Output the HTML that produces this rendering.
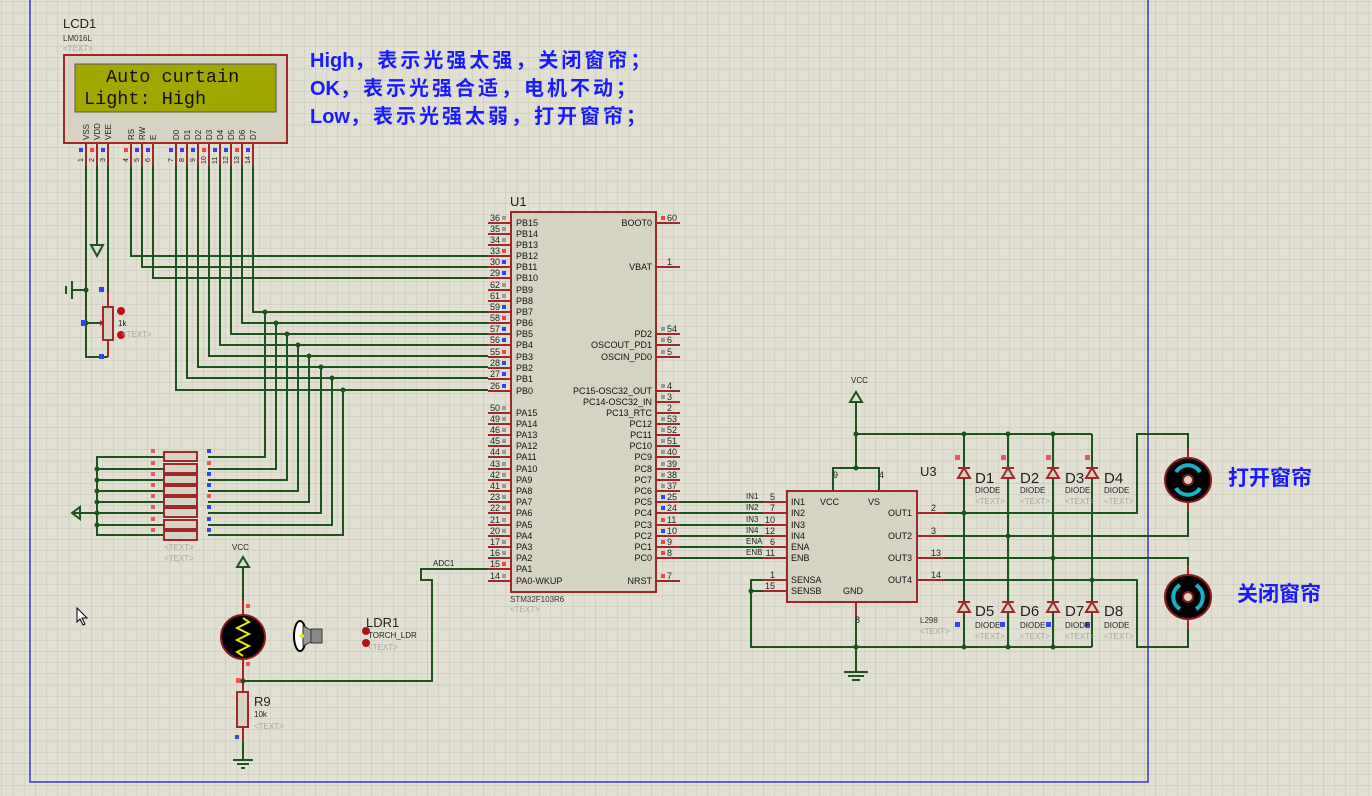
<!DOCTYPE html>
<html><head><meta charset="utf-8"><style>
html,body{margin:0;padding:0;background:#e1e0d3;}
svg{display:block;}
text{font-family:"Liberation Sans",Arial,sans-serif;}
.pn{font-size:9px;fill:#222;}
.pl{font-size:9px;fill:#111;}
.w{stroke:#1d531d;stroke-width:2;fill:none;}
.r{stroke:#a02828;stroke-width:2;fill:none;}
.tx{font-size:8px;fill:#a8a8a0;}
.cn{font-family:"Liberation Sans","Noto Sans CJK SC",sans-serif;font-weight:bold;fill:#1a1aff;}
.mono{font-family:"Liberation Mono","DejaVu Sans Mono",monospace;}
.sp{letter-spacing:3px;}
</style></head><body>
<svg width="1372" height="796" viewBox="0 0 1372 796" xmlns="http://www.w3.org/2000/svg">
<defs>
<pattern id="g" width="11.2" height="11.2" patternUnits="userSpaceOnUse" x="2" y="2">
<path d="M11.2 0V11.2M0 11.2H11.2" stroke="#c4c4b4" stroke-width="1" fill="none"/>
</pattern>
</defs>
<rect width="1372" height="796" fill="#e1e0d3"/>
<rect width="1372" height="796" fill="url(#g)"/>
<path d="M30 0V782H1148V0" stroke="#3a3ab8" stroke-width="1.5" fill="none"/>

<text x="310" y="67" class="cn" font-size="20">High<tspan class="sp">，表示光强太强，关闭窗帘；</tspan></text>
<text x="310" y="95" class="cn" font-size="20">OK<tspan class="sp">，表示光强合适，电机不动；</tspan></text>
<text x="310" y="123" class="cn" font-size="20">Low<tspan class="sp">，表示光强太弱，打开窗帘；</tspan></text>

<text x="63" y="28" font-size="13" fill="#222">LCD1</text>
<text x="63" y="41" font-size="8" fill="#333">LM016L</text>
<text x="63" y="51" class="tx">&lt;TEXT&gt;</text>
<rect x="64" y="55" width="223" height="88" fill="#d6d3c2" stroke="#a02828" stroke-width="2"/>
<rect x="75" y="64" width="201" height="48" fill="#a0a800" stroke="#555" stroke-width="1"/>
<text x="106" y="82" class="mono" font-size="18.5" fill="#111">Auto curtain</text>
<text x="84" y="104" class="mono" font-size="18.5" fill="#111">Light: High</text>
<g font-size="8" fill="#222">
<text transform="translate(89,140) rotate(-90)">VSS</text>
<text transform="translate(100,140) rotate(-90)">VDD</text>
<text transform="translate(111,140) rotate(-90)">VEE</text>
<text transform="translate(134,140) rotate(-90)">RS</text>
<text transform="translate(145,140) rotate(-90)">RW</text>
<text transform="translate(156,140) rotate(-90)">E</text>
<text transform="translate(179,140) rotate(-90)">D0</text>
<text transform="translate(190,140) rotate(-90)">D1</text>
<text transform="translate(201,140) rotate(-90)">D2</text>
<text transform="translate(212,140) rotate(-90)">D3</text>
<text transform="translate(223,140) rotate(-90)">D4</text>
<text transform="translate(234,140) rotate(-90)">D5</text>
<text transform="translate(245,140) rotate(-90)">D6</text>
<text transform="translate(256,140) rotate(-90)">D7</text>
</g>
<g class="r">
<path d="M86 144V166M97 144V166M108 144V166M131 144V166M142 144V166M153 144V166M176 144V166M187 144V166M198 144V166M209 144V166M220 144V166M231 144V166M242 144V166M253 144V166"/>
</g>
<g font-size="7" fill="#222">
<text transform="translate(83,162) rotate(-90)">1</text><text transform="translate(94,162) rotate(-90)">2</text><text transform="translate(105,162) rotate(-90)">3</text>
<text transform="translate(128,162) rotate(-90)">4</text><text transform="translate(139,162) rotate(-90)">5</text><text transform="translate(150,162) rotate(-90)">6</text>
<text transform="translate(173,162) rotate(-90)">7</text><text transform="translate(184,162) rotate(-90)">8</text><text transform="translate(195,162) rotate(-90)">9</text>
<text transform="translate(206,164) rotate(-90)">10</text><text transform="translate(217,164) rotate(-90)">11</text><text transform="translate(228,164) rotate(-90)">12</text>
<text transform="translate(239,164) rotate(-90)">13</text><text transform="translate(250,164) rotate(-90)">14</text>
</g>
<g>
<rect x="79" y="148" width="4" height="4" fill="#3344ee"/><rect x="90" y="148" width="4" height="4" fill="#ee4444"/><rect x="101" y="148" width="4" height="4" fill="#3344ee"/>
<rect x="124" y="148" width="4" height="4" fill="#ee4444"/><rect x="135" y="148" width="4" height="4" fill="#3344ee"/><rect x="146" y="148" width="4" height="4" fill="#3344ee"/>
<rect x="169" y="148" width="4" height="4" fill="#3344ee"/><rect x="180" y="148" width="4" height="4" fill="#3344ee"/><rect x="191" y="148" width="4" height="4" fill="#3344ee"/>
<rect x="202" y="148" width="4" height="4" fill="#ee4444"/><rect x="213" y="148" width="4" height="4" fill="#3344ee"/><rect x="224" y="148" width="4" height="4" fill="#3344ee"/>
<rect x="235" y="148" width="4" height="4" fill="#ee4444"/><rect x="246" y="148" width="4" height="4" fill="#3344ee"/>
</g>

<g class="w">
<path d="M86 166V357H108"/>
<path d="M97 166V245"/>
<path d="M108 166V292"/>
<path d="M131 166V256H488"/>
<path d="M142 166V267H488"/>
<path d="M153 166V278H488"/>
<path d="M253 166V312H488"/>
<path d="M242 166V323H488"/>
<path d="M231 166V334H488"/>
<path d="M220 166V345H488"/>
<path d="M209 166V356H488"/>
<path d="M198 166V367H488"/>
<path d="M187 166V378H488"/>
<path d="M176 166V390H488"/>
<path d="M265 312V457H208"/>
<path d="M276 323V469H208"/>
<path d="M287 334V480H208"/>
<path d="M298 345V491H208"/>
<path d="M309 356V502H208"/>
<path d="M321 367V513H208"/>
<path d="M332 378V525H208"/>
<path d="M343 390V535H208"/>
<path d="M164 457H97V535H164M97 469H164M97 480H164M97 491H164M97 502H164M97 513H164M97 525H164M97 513H72"/>
<path d="M86 290H72M72 281V299M66 286V294M86 323H100"/>
</g>
<path d="M91 245H103L97 256Z" fill="none" stroke="#1d531d" stroke-width="2"/>
<path d="M72 513L80 507V519Z" fill="none" stroke="#1d531d" stroke-width="2"/>
<path d="M100 320L104 323L100 326Z" fill="#a02828"/>
<g fill="#1d531d">
<circle cx="86" cy="290" r="2.5"/><circle cx="86" cy="323" r="2.5"/>
<circle cx="265" cy="312" r="2.5"/><circle cx="276" cy="323" r="2.5"/><circle cx="287" cy="334" r="2.5"/><circle cx="298" cy="345" r="2.5"/>
<circle cx="309" cy="356" r="2.5"/><circle cx="321" cy="367" r="2.5"/><circle cx="332" cy="378" r="2.5"/><circle cx="343" cy="390" r="2.5"/>
<circle cx="97" cy="469" r="2.5"/><circle cx="97" cy="480" r="2.5"/><circle cx="97" cy="491" r="2.5"/><circle cx="97" cy="502" r="2.5"/><circle cx="97" cy="513" r="2.5"/><circle cx="97" cy="525" r="2.5"/>
</g>
<path class="r" d="M108 292V307M108 340V357"/>
<rect x="103" y="307" width="10" height="33" fill="#d6d3c2" stroke="#a02828" stroke-width="2"/>
<rect x="99" y="287" width="5" height="5" fill="#3344ee"/><rect x="81" y="320" width="5" height="6" fill="#3344ee"/><rect x="99" y="354" width="5" height="5" fill="#3344ee"/>
<circle cx="121" cy="311" r="4" fill="#c01010"/><circle cx="121" cy="335" r="4" fill="#c01010"/>
<text x="118" y="326" font-size="8" fill="#222">1k</text>
<text x="122" y="337" class="tx">&lt;TEXT&gt;</text>

<g fill="#d6d3c2" stroke="#a02828" stroke-width="2">
<rect x="164" y="452" width="33" height="9"/><rect x="164" y="464" width="33" height="9"/><rect x="164" y="475" width="33" height="9"/><rect x="164" y="486" width="33" height="9"/>
<rect x="164" y="497" width="33" height="9"/><rect x="164" y="508" width="33" height="9"/><rect x="164" y="520" width="33" height="9"/><rect x="164" y="531" width="33" height="9"/>
</g>
<g fill="#ee5555">
<rect x="151" y="449" width="4" height="4"/><rect x="151" y="461" width="4" height="4"/><rect x="151" y="472" width="4" height="4"/><rect x="151" y="483" width="4" height="4"/><rect x="151" y="494" width="4" height="4"/><rect x="151" y="505" width="4" height="4"/><rect x="151" y="517" width="4" height="4"/><rect x="151" y="528" width="4" height="4"/>
<rect x="207" y="461" width="4" height="4"/><rect x="207" y="494" width="4" height="4"/>
</g>
<g fill="#3344ee">
<rect x="207" y="449" width="4" height="4"/><rect x="207" y="472" width="4" height="4"/><rect x="207" y="483" width="4" height="4"/><rect x="207" y="505" width="4" height="4"/><rect x="207" y="517" width="4" height="4"/><rect x="207" y="528" width="4" height="4"/>
</g>
<text x="164" y="550" class="tx">&lt;TEXT&gt;</text>
<text x="164" y="561" class="tx">&lt;TEXT&gt;</text>

<text x="510" y="206" font-size="13" fill="#222">U1</text>
<rect x="511" y="212" width="145" height="380" fill="#d6d3c2" stroke="#a02828" stroke-width="2"/>
<g class="r">
<path d="M488 223H511M488 234H511M488 245H511M488 256H511M488 267H511M488 278H511M488 290H511M488 301H511M488 312H511M488 323H511M488 334H511M488 345H511M488 357H511M488 368H511M488 379H511M488 391H511"/>
<path d="M488 413H511M488 424H511M488 435H511M488 446H511M488 457H511M488 469H511M488 480H511M488 491H511M488 502H511M488 513H511M488 525H511M488 536H511M488 547H511M488 558H511M488 569H511M488 581H511"/>
<path d="M656 223H680M656 267H680M656 334H680M656 345H680M656 357H680M656 391H680M656 402H680M656 413H680M656 424H680M656 435H680M656 446H680M656 457H680M656 469H680M656 480H680M656 491H680M656 502H680M656 513H680M656 525H680M656 536H680M656 547H680M656 558H680M656 581H680"/>
</g>
<g class="pn" text-anchor="end">
<text x="500" y="221">36</text><text x="500" y="232">35</text><text x="500" y="243">34</text><text x="500" y="254">33</text><text x="500" y="265">30</text><text x="500" y="276">29</text><text x="500" y="288">62</text><text x="500" y="299">61</text>
<text x="500" y="310">59</text><text x="500" y="321">58</text><text x="500" y="332">57</text><text x="500" y="343">56</text><text x="500" y="355">55</text><text x="500" y="366">28</text><text x="500" y="377">27</text><text x="500" y="389">26</text>
<text x="500" y="411">50</text><text x="500" y="422">49</text><text x="500" y="433">46</text><text x="500" y="444">45</text><text x="500" y="455">44</text><text x="500" y="467">43</text><text x="500" y="478">42</text><text x="500" y="489">41</text>
<text x="500" y="500">23</text><text x="500" y="511">22</text><text x="500" y="523">21</text><text x="500" y="534">20</text><text x="500" y="545">17</text><text x="500" y="556">16</text><text x="500" y="567">15</text><text x="500" y="579">14</text>
</g>
<g fill="#999">
<rect x="502" y="216" width="4" height="4"/><rect x="502" y="227" width="4" height="4"/><rect x="502" y="238" width="4" height="4"/><rect x="502" y="283" width="4" height="4"/><rect x="502" y="294" width="4" height="4"/>
<rect x="502" y="406" width="4" height="4"/><rect x="502" y="417" width="4" height="4"/><rect x="502" y="428" width="4" height="4"/><rect x="502" y="439" width="4" height="4"/><rect x="502" y="450" width="4" height="4"/><rect x="502" y="462" width="4" height="4"/><rect x="502" y="473" width="4" height="4"/><rect x="502" y="484" width="4" height="4"/><rect x="502" y="495" width="4" height="4"/><rect x="502" y="506" width="4" height="4"/><rect x="502" y="518" width="4" height="4"/><rect x="502" y="529" width="4" height="4"/><rect x="502" y="540" width="4" height="4"/><rect x="502" y="551" width="4" height="4"/><rect x="502" y="574" width="4" height="4"/>
<rect x="661" y="327" width="4" height="4"/><rect x="661" y="338" width="4" height="4"/><rect x="661" y="350" width="4" height="4"/><rect x="661" y="384" width="4" height="4"/><rect x="661" y="395" width="4" height="4"/><rect x="661" y="417" width="4" height="4"/><rect x="661" y="428" width="4" height="4"/><rect x="661" y="439" width="4" height="4"/><rect x="661" y="450" width="4" height="4"/><rect x="661" y="462" width="4" height="4"/><rect x="661" y="473" width="4" height="4"/><rect x="661" y="484" width="4" height="4"/>
</g>
<g fill="#ee4444"><rect x="502" y="249" width="4" height="4"/><rect x="502" y="316" width="4" height="4"/><rect x="502" y="350" width="4" height="4"/><rect x="502" y="562" width="4" height="4"/><rect x="661" y="216" width="4" height="4"/><rect x="661" y="518" width="4" height="4"/><rect x="661" y="540" width="4" height="4"/><rect x="661" y="551" width="4" height="4"/><rect x="661" y="574" width="4" height="4"/></g>
<g fill="#3344ee"><rect x="502" y="260" width="4" height="4"/><rect x="502" y="271" width="4" height="4"/><rect x="502" y="305" width="4" height="4"/><rect x="502" y="327" width="4" height="4"/><rect x="502" y="338" width="4" height="4"/><rect x="502" y="361" width="4" height="4"/><rect x="502" y="372" width="4" height="4"/><rect x="502" y="384" width="4" height="4"/><rect x="661" y="495" width="4" height="4"/><rect x="661" y="506" width="4" height="4"/><rect x="661" y="529" width="4" height="4"/></g>
<g class="pl">
<text x="516" y="226">PB15</text><text x="516" y="237">PB14</text><text x="516" y="248">PB13</text><text x="516" y="259">PB12</text><text x="516" y="270">PB11</text><text x="516" y="281">PB10</text><text x="516" y="293">PB9</text><text x="516" y="304">PB8</text>
<text x="516" y="315">PB7</text><text x="516" y="326">PB6</text><text x="516" y="337">PB5</text><text x="516" y="348">PB4</text><text x="516" y="360">PB3</text><text x="516" y="371">PB2</text><text x="516" y="382">PB1</text><text x="516" y="394">PB0</text>
<text x="516" y="416">PA15</text><text x="516" y="427">PA14</text><text x="516" y="438">PA13</text><text x="516" y="449">PA12</text><text x="516" y="460">PA11</text><text x="516" y="472">PA10</text><text x="516" y="483">PA9</text><text x="516" y="494">PA8</text>
<text x="516" y="505">PA7</text><text x="516" y="516">PA6</text><text x="516" y="528">PA5</text><text x="516" y="539">PA4</text><text x="516" y="550">PA3</text><text x="516" y="561">PA2</text><text x="516" y="572">PA1</text><text x="516" y="584">PA0-WKUP</text>
</g>
<g class="pl" text-anchor="end">
<text x="652" y="226">BOOT0</text><text x="652" y="270">VBAT</text><text x="652" y="337">PD2</text><text x="652" y="348">OSCOUT_PD1</text><text x="652" y="360">OSCIN_PD0</text>
<text x="652" y="394">PC15-OSC32_OUT</text><text x="652" y="405">PC14-OSC32_IN</text><text x="652" y="416">PC13_RTC</text><text x="652" y="427">PC12</text><text x="652" y="438">PC11</text><text x="652" y="449">PC10</text><text x="652" y="460">PC9</text><text x="652" y="472">PC8</text>
<text x="652" y="483">PC7</text><text x="652" y="494">PC6</text><text x="652" y="505">PC5</text><text x="652" y="516">PC4</text><text x="652" y="528">PC3</text><text x="652" y="539">PC2</text><text x="652" y="550">PC1</text><text x="652" y="561">PC0</text><text x="652" y="584">NRST</text>
</g>
<g class="pn">
<text x="667" y="221">60</text><text x="667" y="265">1</text><text x="667" y="332">54</text><text x="667" y="343">6</text><text x="667" y="355">5</text><text x="667" y="389">4</text><text x="667" y="400">3</text><text x="667" y="411">2</text><text x="667" y="422">53</text><text x="667" y="433">52</text><text x="667" y="444">51</text><text x="667" y="455">40</text><text x="667" y="467">39</text><text x="667" y="478">38</text><text x="667" y="489">37</text><text x="667" y="500">25</text><text x="667" y="511">24</text><text x="667" y="523">11</text><text x="667" y="534">10</text><text x="667" y="545">9</text><text x="667" y="556">8</text><text x="667" y="579">7</text>
</g>
<text x="510" y="602" font-size="8" fill="#333">STM32F103R6</text>
<text x="510" y="612" class="tx">&lt;TEXT&gt;</text>

<path class="w" d="M488 569H421V580H432V681H243"/>
<text x="433" y="566" font-size="8" fill="#222">ADC1</text>

<text x="232" y="550" font-size="8" fill="#222">VCC</text>
<path d="M237 567L243 557L249 567Z" fill="none" stroke="#1d531d" stroke-width="2"/>
<path class="w" d="M243 567V600"/>
<path class="r" d="M243 600V615M243 659V681M243 681V692M243 727V742"/>
<path class="w" d="M243 742V760M233 760H253M237 764H249M241 768H245"/>
<ellipse cx="243" cy="637" rx="22" ry="22" fill="#000" stroke="#8a1a1a" stroke-width="2"/>
<path d="M243 618L249 622L237 628L249 634L237 640L249 646L237 652L243 656" stroke="#e8e800" stroke-width="2" fill="none"/>
<rect x="246" y="604" width="4" height="4" fill="#ee5555"/><rect x="246" y="662" width="4" height="4" fill="#ee5555"/><rect x="236" y="678" width="5" height="5" fill="#ee5555"/>
<circle cx="243" cy="681" r="2.5" fill="#1d531d"/>
<rect x="237" y="692" width="11" height="35" fill="#d6d3c2" stroke="#a02828" stroke-width="2"/>
<rect x="235" y="735" width="4" height="4" fill="#3344ee"/>
<text x="254" y="706" font-size="13" fill="#222">R9</text>
<text x="254" y="717" font-size="8" fill="#222">10k</text>
<text x="254" y="729" class="tx">&lt;TEXT&gt;</text>
<ellipse cx="300" cy="636" rx="6" ry="15" fill="#fff" stroke="#000" stroke-width="2"/>
<path d="M303 626L311 630V642L303 646Z" fill="#999" stroke="#333"/>
<rect x="311" y="629" width="11" height="14" fill="#888" stroke="#333"/>
<circle cx="302" cy="636" r="2" fill="#ee0"/>
<text x="366" y="627" font-size="13" fill="#222">LDR1</text>
<text x="368" y="638" font-size="8" fill="#222">TORCH_LDR</text>
<text x="368" y="650" class="tx">&lt;TEXT&gt;</text>
<circle cx="366" cy="631" r="4" fill="#b01010"/><circle cx="366" cy="643" r="4" fill="#b01010"/>

<path d="M77 608V622L80 619L83 625L85 624L82 618H87Z" fill="#fff" stroke="#000" stroke-width="1"/>

<path class="w" d="M680 502H763M680 513H763M680 525H763M680 536H763M680 547H763M680 558H763"/>
<g font-size="8" fill="#222">
<text x="746" y="499">IN1</text><text x="746" y="510">IN2</text><text x="746" y="522">IN3</text><text x="746" y="533">IN4</text><text x="746" y="544">ENA</text><text x="746" y="555">ENB</text>
</g>

<text x="920" y="476" font-size="13" fill="#222">U3</text>
<text x="851" y="383" font-size="8" fill="#222">VCC</text>
<path d="M850 402L856 392L862 402Z" fill="none" stroke="#1d531d" stroke-width="2"/>
<path class="w" d="M856 402V434M856 434H1092M833 491V468H879V491M856 468V434"/>
<rect x="787" y="491" width="130" height="111" fill="#d6d3c2" stroke="#a02828" stroke-width="2"/>
<g class="r"><path d="M763 502H787M763 513H787M763 525H787M763 536H787M763 547H787M763 558H787M763 580H787M763 591H787M917 513H945M917 536H945M917 558H945M917 580H945M856 602V620"/></g>
<g class="pn" text-anchor="end">
<text x="775" y="500">5</text><text x="775" y="511">7</text><text x="775" y="523">10</text><text x="775" y="534">12</text><text x="775" y="545">6</text><text x="775" y="556">11</text><text x="775" y="578">1</text><text x="775" y="589">15</text>
</g>
<g class="pn"><text x="833" y="478">9</text><text x="879" y="478">4</text><text x="931" y="511">2</text><text x="931" y="534">3</text><text x="931" y="556">13</text><text x="931" y="578">14</text><text x="855" y="623">8</text></g>
<g class="pl">
<text x="791" y="505">IN1</text><text x="791" y="516">IN2</text><text x="791" y="528">IN3</text><text x="791" y="539">IN4</text><text x="791" y="550">ENA</text><text x="791" y="561">ENB</text>
<text x="791" y="583">SENSA</text><text x="791" y="594">SENSB</text><text x="820" y="505">VCC</text><text x="868" y="505">VS</text><text x="843" y="594">GND</text>
<text x="912" y="516" text-anchor="end">OUT1</text><text x="912" y="539" text-anchor="end">OUT2</text><text x="912" y="561" text-anchor="end">OUT3</text><text x="912" y="583" text-anchor="end">OUT4</text>
</g>
<path class="w" d="M763 580H751V647H1092M751 591H763M856 620V672M844 672H868M848 676H864M852 680H860"/>
<text x="920" y="623" font-size="8" fill="#333">L298</text>
<text x="920" y="634" class="tx">&lt;TEXT&gt;</text>

<path class="w" d="M964 434V647M1008 434V647M1053 434V647M1092 434V647"/>
<path class="w" d="M945 513H1137V434H1188V458M945 536H1188V502M945 558H1188V575M945 580H1137V647H1188V619"/>
<g fill="#d6d3c2" stroke="#a02828" stroke-width="2">
<path d="M958 478L964 468L970 478Z"/><path d="M1002 478L1008 468L1014 478Z"/><path d="M1047 478L1053 468L1059 478Z"/><path d="M1086 478L1092 468L1098 478Z"/>
<path d="M958 612L964 602L970 612Z"/><path d="M1002 612L1008 602L1014 612Z"/><path d="M1047 612L1053 602L1059 612Z"/><path d="M1086 612L1092 602L1098 612Z"/>
</g>
<g stroke="#a02828" stroke-width="2"><path d="M958 468H970M1002 468H1014M1047 468H1059M1086 468H1098M958 602H970M1002 602H1014M1047 602H1059M1086 602H1098"/></g>
<g fill="#ee5555"><rect x="955" y="455" width="5" height="5"/><rect x="1001" y="455" width="5" height="5"/><rect x="1046" y="455" width="5" height="5"/><rect x="1085" y="455" width="5" height="5"/></g>
<g fill="#3344ee"><rect x="955" y="622" width="5" height="5"/><rect x="1000" y="622" width="5" height="5"/><rect x="1046" y="622" width="5" height="5"/><rect x="1085" y="622" width="5" height="5"/></g>
<g fill="#1d531d">
<circle cx="856" cy="434" r="2.5"/><circle cx="856" cy="468" r="2.5"/><circle cx="964" cy="434" r="2.5"/><circle cx="1008" cy="434" r="2.5"/><circle cx="1053" cy="434" r="2.5"/>
<circle cx="964" cy="513" r="2.5"/><circle cx="1008" cy="536" r="2.5"/><circle cx="1053" cy="558" r="2.5"/><circle cx="1092" cy="580" r="2.5"/>
<circle cx="751" cy="591" r="2.5"/><circle cx="856" cy="647" r="2.5"/><circle cx="964" cy="647" r="2.5"/><circle cx="1008" cy="647" r="2.5"/><circle cx="1053" cy="647" r="2.5"/>
</g>
<g font-size="15" fill="#222">
<text x="975" y="483">D1</text><text x="1020" y="483">D2</text><text x="1065" y="483">D3</text><text x="1104" y="483">D4</text>
<text x="975" y="616">D5</text><text x="1020" y="616">D6</text><text x="1065" y="616">D7</text><text x="1104" y="616">D8</text>
</g>
<g font-size="8" fill="#222">
<text x="975" y="493">DIODE</text><text x="1020" y="493">DIODE</text><text x="1065" y="493">DIODE</text><text x="1104" y="493">DIODE</text>
<text x="975" y="628">DIODE</text><text x="1020" y="628">DIODE</text><text x="1065" y="628">DIODE</text><text x="1104" y="628">DIODE</text>
</g>
<g class="tx">
<text x="975" y="504">&lt;TEXT&gt;</text><text x="1020" y="504">&lt;TEXT&gt;</text><text x="1065" y="504">&lt;TEXT&gt;</text><text x="1104" y="504">&lt;TEXT&gt;</text>
<text x="975" y="639">&lt;TEXT&gt;</text><text x="1020" y="639">&lt;TEXT&gt;</text><text x="1065" y="639">&lt;TEXT&gt;</text><text x="1104" y="639">&lt;TEXT&gt;</text>
</g>

<path class="r" d="M1188 448V458M1188 502V512M1188 565V575M1188 619V629"/>
<ellipse cx="1188" cy="480" rx="23" ry="22" fill="#000" stroke="#8a1a1a" stroke-width="2"/>
<path d="M1176 472A14 14 0 0 1 1200 472M1176 488A14 14 0 0 0 1200 488" stroke="#1ab0c8" stroke-width="4" fill="none"/>
<circle cx="1188" cy="480" r="5" fill="#d6d3c2" stroke="#8a1a1a" stroke-width="2"/>
<ellipse cx="1188" cy="597" rx="23" ry="22" fill="#000" stroke="#8a1a1a" stroke-width="2"/>
<path d="M1180 585A14 14 0 0 0 1180 609M1196 585A14 14 0 0 1 1196 609" stroke="#1ab0c8" stroke-width="4" fill="none"/>
<circle cx="1188" cy="597" r="5" fill="#d6d3c2" stroke="#8a1a1a" stroke-width="2"/>
<text x="1228" y="485" class="cn" font-size="21">打开窗帘</text>
<text x="1237" y="601" class="cn" font-size="21">关闭窗帘</text>
</svg>
</body></html>
